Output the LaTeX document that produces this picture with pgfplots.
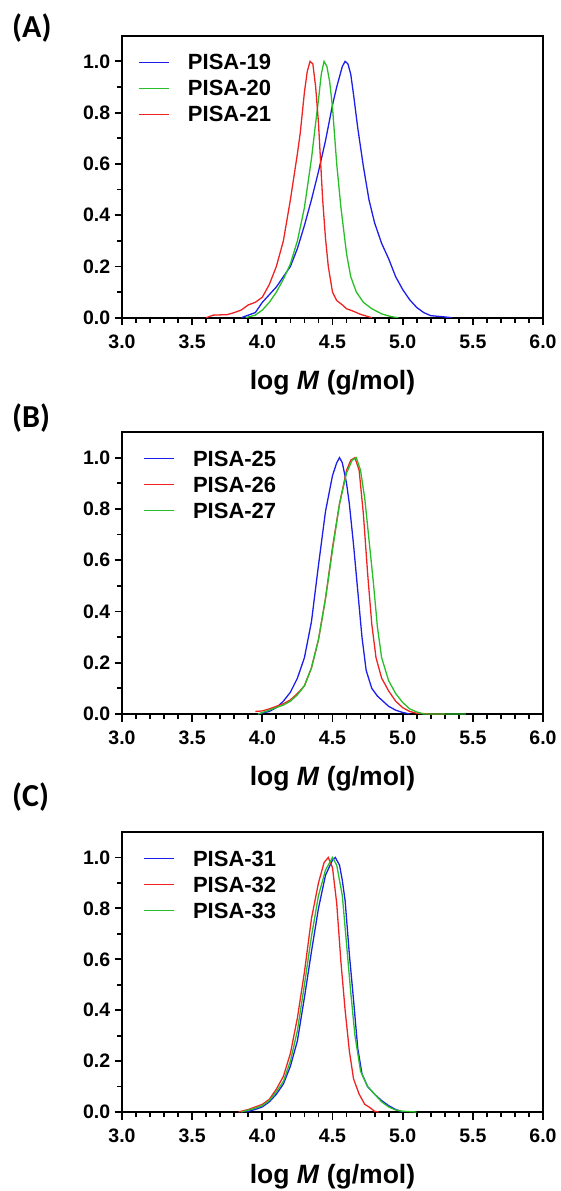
\documentclass[border=0pt]{standalone}
\usepackage{fontspec}
\setmainfont{Liberation Sans}
\newfontfamily\calibri{Carlito}
\usepackage{pgfplots}
\pgfplotsset{compat=1.18}

\definecolor{gpcblue}{RGB}{30,30,235}
\definecolor{gpcgreen}{RGB}{40,190,40}
\definecolor{gpcred}{RGB}{240,35,35}

\pgfplotsset{
  gpc/.style={
    scale only axis, width=421pt, height=282pt,
    xmin=3, xmax=6, ymin=0, ymax=1.1,
    xtick={3,3.5,4,4.5,5,5.5,6}, ytick={0,0.2,0.4,0.6,0.8,1.0},
    minor x tick num=4, minor y tick num=1,
    tick align=outside, xtick pos=bottom, ytick pos=left,
    line width=2pt,
    axis line style={line width=2pt},
    major tick length=7.5pt, minor tick length=5pt,
    every tick/.style={black, line width=1.8pt},
    /pgf/number format/assume math mode=true,
    ticklabel style={font=\bfseries\fontsize{19.5}{19.5}\selectfont,
      /pgf/number format/fixed, /pgf/number format/precision=1,
      /pgf/number format/fixed zerofill},
    xticklabel style={yshift=-5.5pt},
    xlabel={log \textit{M} (g/mol)},
    xlabel style={font=\bfseries\fontsize{26.5}{26.5}\selectfont,
      at={(axis description cs:0.5,-0.23)}, anchor=center},
    legend cell align=left,
    legend style={at={(axis description cs:#1,0.953)}, anchor=north west,
      draw=none, fill=none, inner sep=0pt, column sep=19pt, row sep=0pt,
      font=\bfseries\fontsize{22}{22}\selectfont,
      nodes={inner sep=0pt, minimum height=26pt}},
    every axis plot/.append style={line width=1.3pt, no markers},
  },
  % legend key drawn as a coloured rule (keeps its colour in every panel)
  key/.style={#1, legend image code/.code={%
    \node[inner sep=0pt, minimum height=0pt, anchor=west] at (0pt,0pt)
      {\textcolor{#1}{\rule[-0.55pt]{30pt}{1.1pt}}};}},
}
\tikzset{panel/.style={anchor=west, font=\calibri\bfseries\fontsize{32}{32}\selectfont, inner sep=0pt}}

\begin{document}
\begin{tikzpicture}
\useasboundingbox (0,0) rectangle (561pt,-1191pt);

% ---------- (A) ----------
\node[panel] at (12pt,-28pt) {(A)};
\begin{axis}[gpc=0.038, at={(122pt,-317.7pt)}]
\addplot[key=gpcblue] coordinates {
 (3.85,0) (3.9,0.01) (3.95,0.02) (4.0,0.06) (4.05,0.09) (4.1,0.12) (4.15,0.16)
 (4.2,0.2) (4.25,0.27) (4.3,0.36) (4.35,0.46) (4.4,0.57) (4.45,0.69) (4.5,0.83)
 (4.53,0.9) (4.55,0.94) (4.57,0.98) (4.59,1.0) (4.61,0.99) (4.63,0.95) (4.65,0.87)
 (4.68,0.74) (4.72,0.59) (4.76,0.46) (4.8,0.37) (4.85,0.29) (4.9,0.23) (4.95,0.16)
 (5.0,0.11) (5.05,0.07) (5.1,0.04) (5.15,0.02) (5.2,0.008) (5.3,0.003) (5.35,0)
};
\addlegendentry{PISA-19}
\addplot[key=gpcgreen] coordinates {
 (3.88,0) (3.95,0.01) (4.0,0.03) (4.05,0.06) (4.1,0.1) (4.15,0.15) (4.2,0.21)
 (4.25,0.3) (4.3,0.43) (4.35,0.62) (4.38,0.76) (4.4,0.85) (4.42,0.95) (4.44,1.0)
 (4.46,0.98) (4.48,0.92) (4.5,0.82) (4.53,0.6) (4.56,0.43) (4.6,0.25) (4.63,0.16)
 (4.67,0.1) (4.72,0.06) (4.78,0.035) (4.85,0.015) (4.92,0.004) (4.97,0)
};
\addlegendentry{PISA-20}
\addplot[key=gpcred] coordinates {
 (3.6,0) (3.65,0.01) (3.75,0.012) (3.8,0.02) (3.85,0.03) (3.9,0.05) (3.95,0.06)
 (4.0,0.08) (4.05,0.13) (4.1,0.2) (4.15,0.3) (4.2,0.46) (4.25,0.64) (4.27,0.72)
 (4.3,0.88) (4.32,0.96) (4.34,1.0) (4.36,0.99) (4.38,0.9) (4.4,0.76) (4.43,0.46)
 (4.45,0.31) (4.47,0.2) (4.5,0.1) (4.53,0.067) (4.57,0.05) (4.6,0.035) (4.65,0.025)
 (4.7,0.013) (4.75,0.005) (4.78,0)
};
\addlegendentry{PISA-21}
\end{axis}

% ---------- (B) ----------
\node[panel] at (12pt,-418pt) {(B)};
\begin{axis}[gpc=0.05, at={(122pt,-714pt)}]
\addplot[key=gpcblue] coordinates {
 (3.97,0) (4.05,0.01) (4.1,0.025) (4.15,0.05) (4.2,0.085) (4.25,0.14) (4.3,0.22)
 (4.35,0.36) (4.4,0.58) (4.45,0.79) (4.5,0.93) (4.53,0.98) (4.55,1.0) (4.57,0.98)
 (4.6,0.9) (4.62,0.82) (4.65,0.66) (4.68,0.48) (4.71,0.3) (4.74,0.17) (4.78,0.1)
 (4.82,0.07) (4.86,0.05) (4.9,0.03) (4.95,0.015) (5.0,0.006) (5.05,0)
};
\addlegendentry{PISA-25}
\addplot[key=gpcred] coordinates {
 (3.95,0.01) (4.0,0.012) (4.05,0.02) (4.1,0.03) (4.15,0.04) (4.2,0.055) (4.25,0.08)
 (4.3,0.11) (4.35,0.18) (4.4,0.29) (4.45,0.45) (4.5,0.65) (4.55,0.82) (4.6,0.95)
 (4.63,0.99) (4.66,1.0) (4.69,0.95) (4.72,0.78) (4.75,0.55) (4.78,0.35) (4.81,0.22)
 (4.85,0.14) (4.9,0.09) (4.95,0.05) (5.0,0.025) (5.05,0.01) (5.1,0.003) (5.2,0) (5.3,0)
};
\addlegendentry{PISA-26}
\addplot[key=gpcgreen] coordinates {
 (3.97,0) (4.05,0.015) (4.1,0.025) (4.15,0.035) (4.2,0.05) (4.25,0.075) (4.3,0.11)
 (4.35,0.18) (4.4,0.29) (4.45,0.45) (4.5,0.64) (4.55,0.82) (4.6,0.94) (4.64,0.99)
 (4.67,1.0) (4.7,0.95) (4.73,0.84) (4.76,0.68) (4.79,0.52) (4.82,0.34) (4.85,0.22)
 (4.9,0.13) (4.95,0.08) (5.0,0.045) (5.05,0.02) (5.1,0.008) (5.15,0) (5.45,0)
};
\addlegendentry{PISA-27}
\end{axis}

% ---------- (C) ----------
\node[panel] at (12pt,-797pt) {(C)};
\begin{axis}[gpc=0.05, at={(122pt,-1112pt)}, height=280pt]
\addplot[key=gpcblue] coordinates {
 (3.88,0) (3.95,0.01) (4.0,0.02) (4.05,0.04) (4.1,0.07) (4.15,0.11) (4.2,0.18)
 (4.25,0.28) (4.3,0.45) (4.35,0.63) (4.4,0.8) (4.45,0.93) (4.5,0.99) (4.52,1.0)
 (4.55,0.97) (4.57,0.91) (4.59,0.83) (4.62,0.62) (4.65,0.44) (4.68,0.25) (4.71,0.15)
 (4.75,0.1) (4.8,0.07) (4.85,0.045) (4.9,0.025) (4.95,0.01) (5.0,0)
};
\addlegendentry{PISA-31}
\addplot[key=gpcred] coordinates {
 (3.83,0) (3.9,0.01) (3.95,0.02) (4.0,0.03) (4.05,0.05) (4.1,0.09) (4.15,0.14)
 (4.2,0.23) (4.25,0.37) (4.3,0.55) (4.35,0.76) (4.4,0.9) (4.44,0.98) (4.47,1.0)
 (4.5,0.96) (4.53,0.82) (4.56,0.59) (4.59,0.4) (4.62,0.24) (4.65,0.13) (4.69,0.07)
 (4.73,0.03) (4.76,0.02) (4.8,0.003) (4.83,0)
};
\addlegendentry{PISA-32}
\addplot[key=gpcgreen] coordinates {
 (3.85,0) (3.95,0.015) (4.0,0.025) (4.05,0.045) (4.1,0.08) (4.15,0.12) (4.2,0.2)
 (4.25,0.32) (4.3,0.5) (4.35,0.69) (4.4,0.85) (4.45,0.95) (4.5,1.0) (4.53,0.97)
 (4.57,0.85) (4.6,0.66) (4.63,0.47) (4.66,0.3) (4.7,0.16) (4.75,0.1) (4.8,0.07)
 (4.85,0.04) (4.9,0.02) (4.95,0.008) (5.0,0.003) (5.1,0)
};
\addlegendentry{PISA-33}
\end{axis}
\end{tikzpicture}
\end{document}
